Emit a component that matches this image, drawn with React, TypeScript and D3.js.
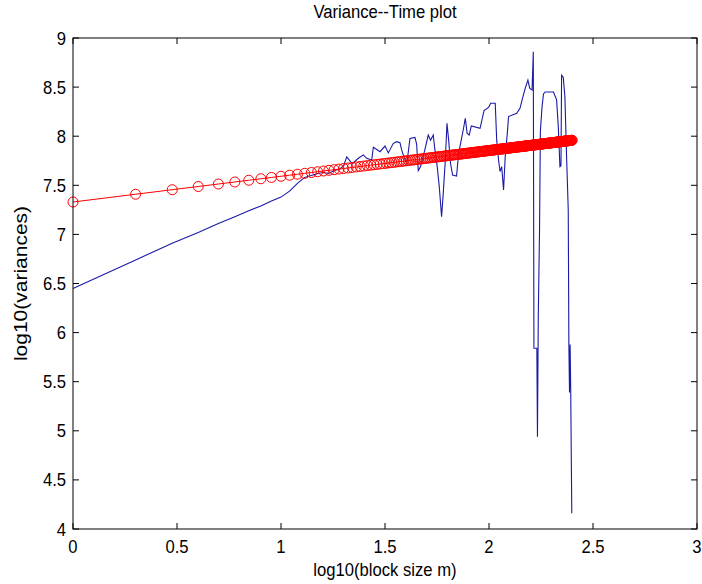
import React, { useEffect } from "react";
import * as d3 from "d3";

// ---- data ----
const TITLE = "Variance--Time plot";
const X_LABEL = "log10(block size m)";
const Y_LABEL = "log10(variances)";
const X_TICKS = [0, 0.5, 1, 1.5, 2, 2.5, 3];
const Y_TICKS = [4, 4.5, 5, 5.5, 6, 6.5, 7, 7.5, 8, 8.5, 9];

// measured log10(variance) curve (x = log10(m), y = log10(var))
const blueX = [
  0, 0.301, 0.477, 0.602, 0.699, 0.778, 0.845, 0.903, 0.954, 1.0, 1.041, 1.079,
  1.114, 1.146, 1.176, 1.204, 1.23, 1.255, 1.279, 1.301, 1.316, 1.342, 1.372,
  1.396, 1.412, 1.436, 1.444, 1.476, 1.5, 1.516, 1.54, 1.556, 1.572, 1.58,
  1.591, 1.605, 1.62, 1.644, 1.652, 1.66, 1.671, 1.692, 1.708, 1.719, 1.732,
  1.74, 1.751, 1.761, 1.772, 1.78, 1.79, 1.798, 1.806, 1.815, 1.825, 1.844,
  1.854, 1.865, 1.876, 1.886, 1.895, 1.905, 1.915, 1.957, 1.966, 1.976, 1.998,
  2.008, 2.03, 2.037, 2.046, 2.053, 2.061, 2.07, 2.078, 2.088, 2.094, 2.133,
  2.149, 2.161, 2.174, 2.187, 2.196, 2.207, 2.213, 2.216, 2.23, 2.233, 2.237,
  2.243, 2.247, 2.255, 2.262, 2.27, 2.31, 2.325, 2.333, 2.341, 2.346, 2.349,
  2.357, 2.365, 2.373, 2.381, 2.384, 2.387, 2.39, 2.393, 2.398,
];
const blueY = [
  6.45, 6.74, 6.91, 7.02, 7.11, 7.18, 7.24, 7.29, 7.34, 7.38, 7.44, 7.52,
  7.58, 7.6, 7.62, 7.63, 7.62, 7.65, 7.66, 7.7, 7.79, 7.72, 7.775,
  7.81, 7.775, 7.758, 7.887, 7.842, 7.9, 7.83, 7.927, 7.944, 7.934, 7.86,
  7.79, 7.72, 7.978, 7.988, 7.92, 7.65, 7.69, 7.866, 8.012, 7.96, 8.012,
  7.86, 7.69, 7.486, 7.18, 7.418, 7.758, 8.131, 7.96, 7.724, 7.605, 7.595,
  7.825, 7.944, 8.063, 8.182, 8.029, 8.012, 8.104, 8.08, 8.165, 8.26, 8.294,
  8.335, 8.335, 7.96, 7.758, 7.64, 7.69, 7.452, 7.79, 8.029, 8.2, 8.233,
  8.284, 8.385, 8.487, 8.572, 8.487, 8.47, 8.86, 5.84, 5.84, 4.94, 6.18,
  7.05, 8.05, 8.3, 8.43, 8.45, 8.45, 8.37, 8.1, 7.69, 7.7, 8.62,
  8.6, 8.4, 7.79, 7.25, 5.88, 5.39, 5.88, 5.39, 4.16,
];

// least-squares fit of the curve: y = intercept + slope * log10(m), m = 1..maxBlock
const fitIntercept = 7.33;
const fitSlope = 0.262;
const maxBlock = 251;

// ---- layout ----
const W = 702;
const H = 584;
const left = 73;
const right = 697;
const top = 38;
const bottom = 529;
const FONT = "'Liberation Sans', Arial, Helvetica, sans-serif";
const SX = 0.9; // horizontal condensation of the lettering
const FS = 18.5;

function HText({ x, y, anchor, size = FS, children }: any) {
  return (
    <text
      transform={`translate(${x},${y}) scale(${SX},1)`}
      textAnchor={anchor}
      fontSize={size}
      fill="#000"
    >
      {children}
    </text>
  );
}

export default function App() {
  useEffect(() => {
    document.body.style.margin = "0";
  }, []);

  const x = d3.scaleLinear().domain([0, 3]).range([left, right]);
  const y = d3.scaleLinear().domain([4, 9]).range([bottom, top]);

  const bluePts: [number, number][] = blueX.map((v, i) => [v, blueY[i]]);
  const line = d3
    .line<[number, number]>()
    .x((d) => x(d[0]))
    .y((d) => y(d[1]));

  const blocks = d3.range(1, maxBlock + 1);
  const redPts: [number, number][] = blocks.map((m) => [
    Math.log10(m),
    fitIntercept + fitSlope * Math.log10(m),
  ]);

  const tick = 6;
  const red = "#ff0000";

  return (
    <svg
      width={W}
      height={H}
      style={{ position: "absolute", left: 0, top: 0, background: "#fff" }}
      fontFamily={FONT}
    >
      <rect x={0} y={0} width={W} height={H} fill="#fff" />
      <HText x={(left + right) / 2} y={18} anchor="middle">
        {TITLE}
      </HText>

      {/* data */}
      <path d={line(bluePts) || ""} fill="none" stroke="#1a1aa6" strokeWidth={1.1} />
      <path d={line(redPts) || ""} fill="none" stroke={red} strokeWidth={1} />
      {redPts.map((d, i) => (
        <circle
          key={i}
          cx={x(d[0])}
          cy={y(d[1])}
          r={5}
          fill="none"
          stroke={red}
          strokeWidth={1}
        />
      ))}

      {/* axes box */}
      <rect
        x={left}
        y={top}
        width={right - left}
        height={bottom - top}
        fill="none"
        stroke="#000"
        strokeWidth={1}
      />
      {X_TICKS.map((t) => (
        <g key={"x" + t}>
          <line x1={x(t)} x2={x(t)} y1={bottom} y2={bottom - tick} stroke="#000" />
          <line x1={x(t)} x2={x(t)} y1={top} y2={top + tick} stroke="#000" />
          <HText x={x(t)} y={553} anchor="middle">
            {String(t)}
          </HText>
        </g>
      ))}
      {Y_TICKS.map((t) => (
        <g key={"y" + t}>
          <line x1={left} x2={left + tick} y1={y(t)} y2={y(t)} stroke="#000" />
          <line x1={right} x2={right - tick} y1={y(t)} y2={y(t)} stroke="#000" />
          <HText x={left - 7} y={y(t) + 6.5} anchor="end">
            {String(t)}
          </HText>
        </g>
      ))}

      <HText x={(left + right) / 2} y={576} anchor="middle">
        {X_LABEL}
      </HText>
      <text
        transform={`translate(27, ${(top + bottom) / 2}) rotate(-90) scale(1, ${SX})`}
        textAnchor="middle"
        fontSize={21}
        fill="#000"
      >
        {Y_LABEL}
      </text>
    </svg>
  );
}
